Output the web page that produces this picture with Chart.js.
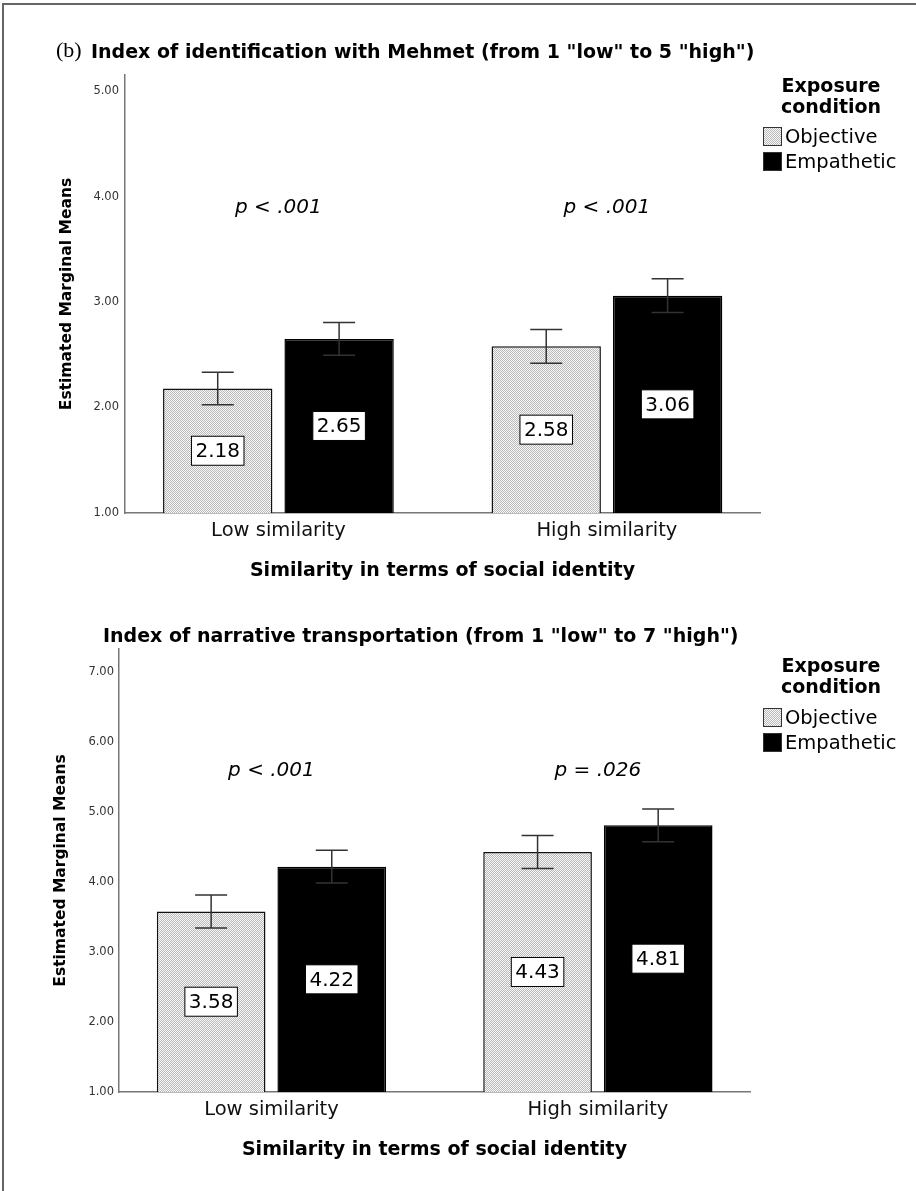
<!DOCTYPE html>
<html>
<head>
<meta charset="utf-8">
<script src="https://cdn.jsdelivr.net/npm/chart.js@4.4.0/dist/chart.umd.min.js"></script>
<style>
  html, body { margin: 0; padding: 0; background: #fff; }
  #page { position: relative; width: 916px; height: 1191px; overflow: hidden; }
  #frame { position: absolute; left: 2px; top: 3px; width: 920px; height: 1200px;
           border-top: 2px solid #666; border-left: 2px solid #666; }
  .box { position: absolute; left: 0; width: 916px; }
  #top { top: 0; height: 595px; }
  #bottom { top: 595px; height: 596px; }
</style>
</head>
<body>
<div id="page">
  <div id="frame"></div>
  <div class="box" id="top"><canvas id="identChart"></canvas></div>
  <div class="box" id="bottom"><canvas id="transChart"></canvas></div>
</div>
<script>
var groups = ['Low similarity', 'High similarity'];
var conditions = ['Objective', 'Empathetic'];

// identification with Mehmet (1-5)
var identObjective = [2.18, 2.58];
var identEmpathetic = [2.65, 3.06];
var identObjectiveErr = [0.155, 0.16];
var identEmpatheticErr = [0.155, 0.16];
var identTicks = [1, 2, 3, 4, 5];
var identP = ['p < .001', 'p < .001'];

// narrative transportation (1-7)
var transObjective = [3.58, 4.43];
var transEmpathetic = [4.22, 4.81];
var transObjectiveErr = [0.235, 0.235];
var transEmpatheticErr = [0.235, 0.235];
var transTicks = [1, 2, 3, 4, 5, 6, 7];
var transP = ['p < .001', 'p = .026'];

Chart.defaults.font.family = "'DejaVu Sans', sans-serif";
Chart.defaults.color = '#000';

// little 2x2 checker tile for the "Objective" fill
var tile = document.createElement('canvas');
tile.width = 2; tile.height = 2;
var tg = tile.getContext('2d');
tg.fillStyle = '#f7f7f7'; tg.fillRect(0, 0, 2, 2);
tg.fillStyle = '#bababa'; tg.fillRect(0, 0, 1, 1); tg.fillRect(1, 1, 1, 1);

var decoPlugin = {
  id: 'deco',
  afterDatasetsDraw: function (chart, args, o) {
    var ctx = chart.ctx, xs = chart.scales.x, ys = chart.scales.y;
    ctx.save();
    // error bars
    chart.data.datasets.forEach(function (ds, d) {
      chart.getDatasetMeta(d).data.forEach(function (bar, i) {
        var v = ds.data[i].y, e = ds.err[i];
        var hi = ys.getPixelForValue(v + e), lo = ys.getPixelForValue(v - e);
        ctx.strokeStyle = '#333';
        ctx.lineWidth = 1.5;
        ctx.beginPath();
        ctx.moveTo(bar.x, hi); ctx.lineTo(bar.x, lo);
        ctx.moveTo(bar.x - 16, hi); ctx.lineTo(bar.x + 16, hi);
        ctx.moveTo(bar.x - 16, lo); ctx.lineTo(bar.x + 16, lo);
        ctx.stroke();
      });
    });
    // value boxes in the middle of each bar
    ctx.font = '20px "DejaVu Sans"';
    ctx.textAlign = 'center';
    ctx.textBaseline = 'middle';
    chart.data.datasets.forEach(function (ds, d) {
      chart.getDatasetMeta(d).data.forEach(function (bar, i) {
        var txt = ds.data[i].y.toFixed(2);
        var w = ctx.measureText(txt).width + 8, h = 29;
        var cy = (bar.y + bar.base) / 2;
        ctx.fillStyle = '#fff';
        ctx.fillRect(bar.x - w / 2, cy - h / 2, w, h);
        ctx.strokeStyle = '#000';
        ctx.lineWidth = 1;
        ctx.strokeRect(bar.x - w / 2, cy - h / 2, w, h);
        ctx.fillStyle = '#000';
        ctx.fillText(txt, bar.x, cy + 1);
      });
    });
    // p values above each group
    ctx.font = 'italic 20px "DejaVu Sans"';
    o.pText.forEach(function (t, i) {
      ctx.fillText(t, xs.getPixelForValue(i), ys.getPixelForValue(o.pY));
    });
    ctx.restore();
  },
  afterDraw: function (chart, args, o) {
    var ctx = chart.ctx;
    ctx.save();
    ctx.fillStyle = '#000';
    ctx.textBaseline = 'middle';
    if (o.tag) {
      ctx.font = '22px "Liberation Serif"';
      ctx.textAlign = 'left';
      ctx.fillText(o.tag, 56, o.titleY - 2);
    }
    ctx.font = 'bold 19px "DejaVu Sans"';
    ctx.textAlign = 'left';
    ctx.fillText(o.title, o.titleX, o.titleY);
    // legend
    ctx.font = 'bold 19px "DejaVu Sans"';
    ctx.textAlign = 'center';
    ctx.fillText('Exposure', 831, o.legendY);
    ctx.fillText('condition', 831, o.legendY + 21);
    ctx.font = '19.5px "DejaVu Sans"';
    ctx.textAlign = 'left';
    chart.data.datasets.forEach(function (ds, d) {
      var cy = o.itemY + d * 25;
      ctx.fillStyle = ds.backgroundColor;
      ctx.fillRect(763, cy - 10, 19, 19);
      ctx.strokeStyle = '#333';
      ctx.lineWidth = 1;
      ctx.strokeRect(763.5, cy - 9.5, 18, 18);
      ctx.fillStyle = '#000';
      ctx.fillText(ds.label, 785, cy + 1);
    });
    ctx.restore();
  }
};

function makeChart(id, c) {
  var ctx = document.getElementById(id).getContext('2d');
  var dots = ctx.createPattern(tile, 'repeat');
  var pts = function (arr) { return arr.map(function (v, i) { return { x: i, y: v }; }); };
  return new Chart(ctx, {
    type: 'bar',
    data: {
      datasets: [
        { label: conditions[0], data: pts(c.objective), err: c.objectiveErr, base: 1,
          backgroundColor: dots, borderColor: '#111', borderWidth: 1.5 },
        { label: conditions[1], data: pts(c.empathetic), err: c.empatheticErr, base: 1,
          backgroundColor: '#000', borderColor: '#000', borderWidth: 1.5 }
      ]
    },
    plugins: [decoPlugin],
    options: {
      responsive: true,
      maintainAspectRatio: false,
      animation: false,
      events: [],
      layout: { padding: { top: c.top, right: c.right, left: 0, bottom: 0 } },
      datasets: { bar: { categoryPercentage: 0.739, barPercentage: 0.901 } },
      plugins: {
        legend: { display: false },
        tooltip: { enabled: false },
        deco: c.deco
      },
      scales: {
        x: {
          type: 'linear',
          min: -0.467,
          max: 1.466,
          offset: false,
          grid: { display: false, drawTicks: false },
          border: { color: '#777', width: 1.5 },
          afterBuildTicks: function (s) { s.ticks = groups.map(function (g, i) { return { value: i }; }); },
          afterFit: function (s) { s.height = c.xHeight; },
          ticks: {
            padding: 6,
            color: '#111',
            autoSkip: false,
            maxRotation: 0,
            font: { size: 19.5 },
            callback: function (v) { return groups[v]; }
          },
          title: {
            display: true,
            text: 'Similarity in terms of social identity',
            color: '#000',
            font: { size: 19, weight: 'bold' },
            padding: { top: 0, bottom: c.xTitlePad }
          }
        },
        y: {
          min: 1,
          max: c.max,
          grid: { display: false, drawTicks: false },
          border: { color: '#777', width: 1.5 },
          afterBuildTicks: function (s) { s.ticks = c.ticks.map(function (v) { return { value: v }; }); },
          afterFit: function (s) { s.width = c.axisX; },
          ticks: {
            padding: c.tickPad,
            color: '#333',
            font: { size: 11.5 },
            callback: function (v) { return v.toFixed(2); }
          },
          title: {
            display: true,
            text: 'Estimated Marginal Means',
            color: '#000',
            font: { size: 15.5, weight: 'bold' },
            padding: { top: c.yTitlePad, bottom: 0 }
          }
        }
      }
    }
  });
}

makeChart('identChart', {
  objective: identObjective, empathetic: identEmpathetic,
  objectiveErr: identObjectiveErr, empatheticErr: identEmpatheticErr,
  ticks: identTicks, max: 5.152,
  top: 75, right: 156, axisX: 125, tickPad: 6, xHeight: 82, xTitlePad: 12.6, yTitlePad: 57.7,
  deco: { tag: '(b)', title: 'Index of identification with Mehmet (from 1 "low" to 5 "high")',
          titleX: 91, titleY: 53, legendY: 87, itemY: 137, pText: identP, pY: 3.89 }
});

makeChart('transChart', {
  objective: transObjective, empathetic: transEmpathetic,
  objectiveErr: transObjectiveErr, empatheticErr: transEmpatheticErr,
  ticks: transTicks, max: 7.33,
  top: 54, right: 166, axisX: 119, tickPad: 5, xHeight: 99, xTitlePad: 29.6, yTitlePad: 51.7,
  deco: { tag: '', title: 'Index of narrative transportation (from 1 "low" to 7 "high")',
          titleX: 103, titleY: 42, legendY: 72, itemY: 123, pText: transP, pY: 5.59 }
});
</script>
</body>
</html>
